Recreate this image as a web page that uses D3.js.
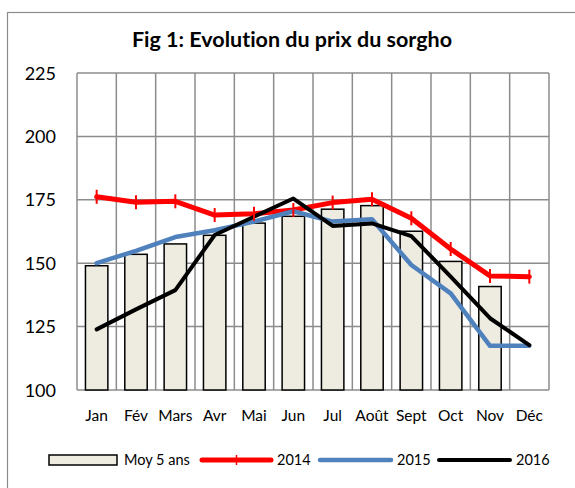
<!DOCTYPE html>
<html>
<head>
<meta charset="utf-8">
<script src="https://cdn.jsdelivr.net/npm/d3@7"></script>
<style>
  body { margin: 0; background: #fff; }
  svg text { font-family: Lato, "Open Sans", sans-serif; fill: #000; font-variant-ligatures: none; }
</style>
</head>
<body>
<div id="chart"></div>
<script>
// data
var months = ["Jan", "Fév", "Mars", "Avr", "Mai", "Jun", "Jul", "Août", "Sept", "Oct", "Nov", "Déc"]
var moy5ans = [149, 153.5, 157.6, 161, 165.8, 168.5, 171.3, 172.7, 162.6, 150.7, 140.8, null]
var prix2014 = [176.2, 174, 174.4, 169, 169.5, 171, 173.9, 175.2, 167.7, 155.6, 145, 144.7]
var prix2015 = [150, 154.9, 160.3, 163, 166.4, 170.5, 166.4, 167.3, 149.3, 138.1, 117.4, 117.4]
var prix2016 = [123.9, 131.8, 139.4, 161.1, 168.3, 175.5, 164.7, 165.7, 160.7, 144.7, 128.3, 117.7]
var yTicks = [100, 125, 150, 175, 200, 225]

var dimensions = {
    width: 575,
    height: 488,
    plot: { left: 77, right: 549, top: 73, bottom: 390 }
}

var svg = d3.select("#chart")
    .append("svg")
    .attr("width", dimensions.width)
    .attr("height", dimensions.height)

// outer frame (cut by the picture on right and bottom)
svg.append("rect")
    .attr("x", 7.5).attr("y", 12.5)
    .attr("width", 600).attr("height", 500)
    .attr("fill", "none")
    .attr("stroke", "#8c8c8c")
    .attr("stroke-width", 1.2)

svg.append("text")
    .attr("x", 292).attr("y", 47)
    .attr("text-anchor", "middle")
    .style("font-weight", "bold")
    .style("font-size", "21.5px")
    .text("Fig 1: Evolution du prix du sorgho")

var x = d3.scaleBand()
    .domain(months)
    .range([dimensions.plot.left, dimensions.plot.right])
    .padding(0)

var y = d3.scaleLinear()
    .domain([100, 225])
    .range([dimensions.plot.bottom, dimensions.plot.top])

var grid = svg.append("g")
    .attr("stroke", "#8c8c8c")
    .attr("stroke-width", 1.5)

// horizontal grid
grid.selectAll("line.h")
    .data(yTicks)
    .enter().append("line")
    .attr("x1", dimensions.plot.left).attr("x2", dimensions.plot.right)
    .attr("y1", function (d) { return y(d) }).attr("y2", function (d) { return y(d) })

// vertical grid on category edges
var edges = months.map(function (m) { return x(m) }).concat([dimensions.plot.right])
grid.selectAll("line.v")
    .data(edges)
    .enter().append("line")
    .attr("x1", function (d) { return d }).attr("x2", function (d) { return d })
    .attr("y1", dimensions.plot.top).attr("y2", dimensions.plot.bottom)

// y labels
svg.append("g")
    .selectAll("text")
    .data(yTicks)
    .enter().append("text")
    .attr("x", 56)
    .attr("y", function (d) { return y(d) + 6.5 })
    .attr("text-anchor", "end")
    .style("font-size", "18px")
    .text(function (d) { return d })

// x labels
svg.append("g")
    .selectAll("text")
    .data(months)
    .enter().append("text")
    .attr("x", function (d) { return x(d) + x.bandwidth() / 2 })
    .attr("y", 421)
    .attr("text-anchor", "middle")
    .style("font-size", "15.5px")
    .text(function (d) { return d })

// bars: 5-year average
var barW = x.bandwidth() * 0.57
svg.append("g")
    .selectAll("rect")
    .data(months.map(function (m, i) { return { m: m, v: moy5ans[i] } }).filter(function (d) { return d.v != null }))
    .enter().append("rect")
    .attr("x", function (d) { return x(d.m) + (x.bandwidth() - barW) / 2 })
    .attr("y", function (d) { return y(d.v) })
    .attr("width", barW)
    .attr("height", function (d) { return y(100) - y(d.v) })
    .attr("fill", "#eeece1")
    .attr("stroke", "#000")
    .attr("stroke-width", 1.5)

var line = d3.line()
    .x(function (d, i) { return x(months[i]) + x.bandwidth() / 2 })
    .y(function (d) { return y(d) })

var series = [
    { name: "2014", values: prix2014, color: "#ff0000", width: 5 },
    { name: "2015", values: prix2015, color: "#4f81bd", width: 4.5 },
    { name: "2016", values: prix2016, color: "#000000", width: 4 }
]

series.forEach(function (s) {
    svg.append("path")
        .datum(s.values)
        .attr("d", line)
        .attr("fill", "none")
        .attr("stroke", s.color)
        .attr("stroke-width", s.width)
        .attr("stroke-linejoin", "round")
        .attr("stroke-linecap", "round")
})

// "+" markers on 2014
svg.append("g")
    .selectAll("line")
    .data(prix2014)
    .enter().append("line")
    .attr("x1", function (d, i) { return x(months[i]) + x.bandwidth() / 2 })
    .attr("x2", function (d, i) { return x(months[i]) + x.bandwidth() / 2 })
    .attr("y1", function (d) { return y(d) - 7 })
    .attr("y2", function (d) { return y(d) + 7 })
    .attr("stroke", "#ff0000")
    .attr("stroke-width", 2)

// legend
var legend = svg.append("g")
var ly = 460
legend.append("rect")
    .attr("x", 49).attr("y", ly - 5)
    .attr("width", 68).attr("height", 10)
    .attr("fill", "#eeece1")
    .attr("stroke", "#000")
    .attr("stroke-width", 1.5)
legend.append("text").attr("x", 124).attr("y", ly + 5).style("font-size", "14.5px").text("Moy 5 ans")

var legendItems = [
    { s: series[0], x1: 202, x2: 271, tx: 277 },
    { s: series[1], x1: 320, x2: 391, tx: 397 },
    { s: series[2], x1: 439, x2: 510, tx: 516 }
]
legendItems.forEach(function (d) {
    legend.append("line")
        .attr("x1", d.x1).attr("x2", d.x2)
        .attr("y1", ly).attr("y2", ly)
        .attr("stroke", d.s.color)
        .attr("stroke-width", d.s.width)
        .attr("stroke-linecap", "round")
    legend.append("text").attr("x", d.tx).attr("y", ly + 5).style("font-size", "14.5px").text(d.s.name)
})
legend.append("line")
    .attr("x1", 236.5).attr("x2", 236.5)
    .attr("y1", ly - 5).attr("y2", ly + 5)
    .attr("stroke", "#ff0000")
    .attr("stroke-width", 1.5)
</script>
</body>
</html>
